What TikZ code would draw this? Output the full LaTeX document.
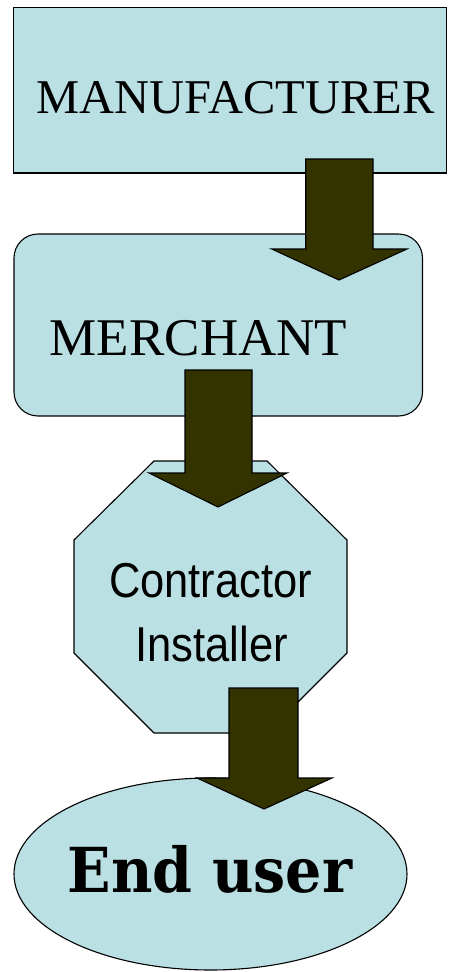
\documentclass[tikz,border=0pt]{standalone}
\usepackage{fontspec}
\setmainfont{Liberation Serif}
\newfontfamily\sansf{Liberation Sans}
\newfontfamily\boldserif{DejaVu Serif}
\usepackage{graphicx}
\definecolor{boxfill}{RGB}{186,224,227}
\definecolor{arrowfill}{RGB}{51,51,0}
\tikzset{
  shapebox/.style={draw=black, fill=boxfill, line width=1.1pt},
  blockarrow/.style={draw=black, fill=arrowfill, line width=1.1pt, line join=miter},
  lbl/.style={anchor=base, inner sep=0pt, text=black}
}
\begin{document}
\begin{tikzpicture}[x=1pt,y=-1pt]
\useasboundingbox (0,0) rectangle (448,972);
% shapes
\draw[shapebox] (13.5,7.5) rectangle (446.5,173);
\coordinate (manuf) at (230,90);
\draw[shapebox, rounded corners=24pt] (14,234) rectangle (422.5,416);
\coordinate (merch) at (218,325);
\draw[shapebox] (154,461) -- (267,461) -- (347,540) -- (347,653) -- (267,733) -- (154,733) -- (74,653) -- (74,540) -- cycle;
\coordinate (contr) at (210.5,597);
\draw[shapebox] (210.5,874) ellipse [x radius=196.5, y radius=96];
\coordinate (enduser) at (210.5,874);
% texts
\node[lbl, font=\fontsize{48.5}{52}\selectfont] at (235.5,113) {MANUFACTURER};
\node[lbl, font=\fontsize{53}{56}\selectfont] at (198.5,355) {MERCHANT};
\node[lbl, font=\sansf\fontsize{49}{52}\selectfont] at (210.5,597) {\scalebox{0.887}[1]{Contractor}};
\node[lbl, font=\sansf\fontsize{49}{52}\selectfont] at (211.5,661) {\scalebox{0.89}[1]{Installer}};
\node[lbl, font=\boldserif\bfseries\fontsize{62}{66}\selectfont] at (210,892) {\scalebox{0.92}[1]{End user}};
% block arrows
\draw[blockarrow] (305.7,159) -- (373,159) -- (373,249) -- (407,249) -- (339,280) -- (271.7,249) -- (305.7,249) -- cycle;
\draw[blockarrow] (185,370) -- (252,370) -- (252,473) -- (287,473) -- (218,507) -- (149,473) -- (185,473) -- cycle;
\draw[blockarrow] (229,688) -- (298,688) -- (298,778) -- (332,778) -- (264,809) -- (197,778) -- (229,778) -- cycle;
\end{tikzpicture}
\end{document}
